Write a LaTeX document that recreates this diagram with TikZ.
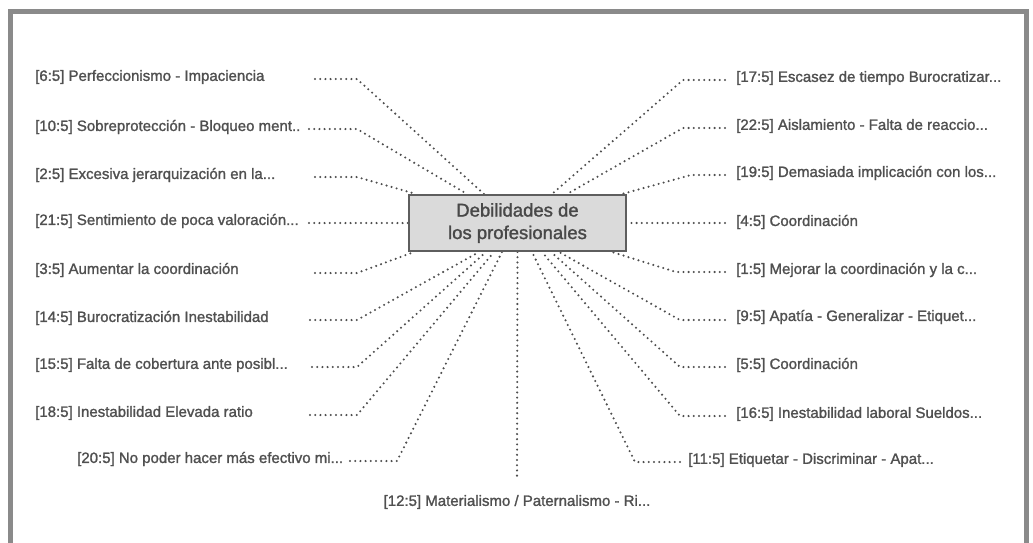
\documentclass[tikz,border=0pt]{standalone}
\usepackage{fontspec}
\setmainfont{Liberation Sans}
\newfontfamily\lblfont[FakeBold=1.4]{Liberation Sans}
\usetikzlibrary{calc,backgrounds}
\definecolor{txt}{HTML}{505050}
\definecolor{hubtxt}{HTML}{484848}
\definecolor{dotc}{HTML}{4E4E4E}
\definecolor{framec}{HTML}{8A8A8A}
\definecolor{boxfill}{HTML}{DADADA}
\definecolor{boxline}{HTML}{5E5E5E}
\begin{document}
\begin{tikzpicture}[x=1pt,y=-1pt,
  lbl/.style={font=\lblfont\fontsize{15}{18}\selectfont, text=txt, inner sep=0pt, anchor=west},
  dotline/.style={draw=dotc, line width=2.3pt, line cap=round, dash pattern=on 0pt off 5.2pt},
  hub/.style={draw=boxline, line width=2pt, fill=boxfill, minimum width=217pt, minimum height=56pt,
    inner sep=0pt, align=center, text=hubtxt, font=\lblfont\fontsize{18.5}{22.5}\selectfont}]
\useasboundingbox (0,0) rectangle (1033,542);

% hub
\node[hub] (c) at (517.5,223) {Debilidades de\\los profesionales};

% labels left
\node[lbl] (l6)  at (35,77)  {[6:5] Perfeccionismo - Impaciencia};
\node[lbl] (l10) at (35,127) {[10:5] Sobreprotección - Bloqueo ment..};
\node[lbl] (l2)  at (35,175) {[2:5] Excesiva jerarquización en la...};
\node[lbl] (l21) at (35,221) {[21:5] Sentimiento de poca valoración...};
\node[lbl] (l3)  at (35,270) {[3:5] Aumentar la coordinación};
\node[lbl] (l14) at (35,318) {[14:5] Burocratización Inestabilidad};
\node[lbl] (l15) at (35,365) {[15:5] Falta de cobertura ante posibl...};
\node[lbl] (l18) at (35,413) {[18:5] Inestabilidad Elevada ratio};
\node[lbl] (l20) at (77,459) {[20:5] No poder hacer más efectivo mi...};
% bottom
\node[lbl, anchor=center] (b12) at (517,502) {[12:5] Materialismo / Paternalismo - Ri...};
% labels right
\node[lbl] (r17) at (736,78)  {[17:5] Escasez de tiempo Burocratizar...};
\node[lbl] (r22) at (736,126) {[22:5] Aislamiento - Falta de reaccio...};
\node[lbl] (r19) at (736,173) {[19:5] Demasiada implicación con los...};
\node[lbl] (r4)  at (736,222) {[4:5] Coordinación};
\node[lbl] (r1)  at (736,270) {[1:5] Mejorar la coordinación y la c...};
\node[lbl] (r9)  at (736,317) {[9:5] Apatía - Generalizar - Etiquet...};
\node[lbl] (r5)  at (736,365) {[5:5] Coordinación};
\node[lbl] (r16) at (736,414) {[16:5] Inestabilidad laboral Sueldos...};
\node[lbl] (r11) at (688,460) {[11:5] Etiquetar - Discriminar - Apat...};

% connector points
\coordinate (l6s) at (315,79);   \coordinate (l6e) at (357,79);
\coordinate (l10s) at (309,129); \coordinate (l10e) at (357,129);
\coordinate (l2s) at (315,177);  \coordinate (l2e) at (357,177);
\coordinate (l21s) at (309,223);
\coordinate (l3s) at (315,273);  \coordinate (l3e) at (357,273);
\coordinate (l14s) at (310,320); \coordinate (l14e) at (357,320);
\coordinate (l15s) at (312,367); \coordinate (l15e) at (357,367);
\coordinate (l18s) at (310,415); \coordinate (l18e) at (357,415);
\coordinate (l20s) at (350,461); \coordinate (l20e) at (397,461);
\coordinate (b12e) at (517,476);
\coordinate (r17s) at (725,80);  \coordinate (r17e) at (683,80);
\coordinate (r22s) at (725,128); \coordinate (r22e) at (683,128);
\coordinate (r19s) at (725,175); \coordinate (r19e) at (691,175);
\coordinate (r4s)  at (725,223);
\coordinate (r1s)  at (725,272); \coordinate (r1e) at (676,272);
\coordinate (r9s)  at (725,320); \coordinate (r9e) at (680,320);
\coordinate (r5s)  at (725,367); \coordinate (r5e) at (680,367);
\coordinate (r16s) at (725,416); \coordinate (r16e) at (680,416);
\coordinate (r11s) at (680,462); \coordinate (r11e) at (635,462);

\begin{scope}[on background layer]
  \fill[white] (0,0) rectangle (1033,542);
  \draw[framec, line width=5pt] (10,546) -- (10,11) -- (1026,11) -- (1026,546);
  % left
  \draw[dotline] (l6s) -- (l6e) -- ($(c.north west)+(76,0)$);
  \draw[dotline] (l10s) -- (l10e) -- ($(c.north west)+(59,0)$);
  \draw[dotline] (l2s) -- (l2e) -- ($(c.north west)+(8,0)$);
  \draw[dotline] (l21s) -- (c.west);
  \draw[dotline] (l3s) -- (l3e) -- ($(c.south west)+(6,0)$);
  \draw[dotline] (l14s) -- (l14e) -- ($(c.south west)+(71,0)$);
  \draw[dotline] (l15s) -- (l15e) -- ($(c.south west)+(78,0)$);
  \draw[dotline] (l18s) -- (l18e) -- ($(c.south west)+(86,0)$);
  \draw[dotline] (l20s) -- (l20e) -- ($(c.south west)+(94,0)$);
  % bottom
  \draw[dotline] (c.south) -- (b12e);
  % right
  \draw[dotline] (r17s) -- (r17e) -- ($(c.north west)+(144,0)$);
  \draw[dotline] (r22s) -- (r22e) -- ($(c.north west)+(159,0)$);
  \draw[dotline] (r19s) -- (r19e) -- ($(c.north west)+(214,0)$);
  \draw[dotline] (r4s) -- (c.east);
  \draw[dotline] (r1s) -- (r1e) -- ($(c.south west)+(204,0)$);
  \draw[dotline] (r9s) -- (r9e) -- ($(c.south west)+(151,0)$);
  \draw[dotline] (r5s) -- (r5e) -- ($(c.south west)+(143,0)$);
  \draw[dotline] (r16s) -- (r16e) -- ($(c.south west)+(134,0)$);
  \draw[dotline] (r11s) -- (r11e) -- ($(c.south west)+(124,0)$);
\end{scope}
\end{tikzpicture}
\end{document}
